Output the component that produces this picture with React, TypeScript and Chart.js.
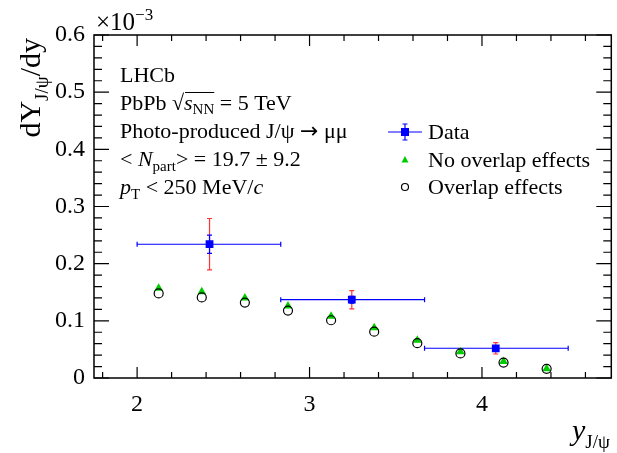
import React, { useEffect, useRef } from "react";
import { Chart, registerables } from "chart.js";

Chart.register(...registerables);

// ---- data (values in units of 1e-3) ----
const binLo = [2.0, 2.833, 3.667];
const binHi = [2.833, 3.667, 4.5];
const dataX = [2.42, 3.245, 4.08];
const dataY = [0.234, 0.137, 0.052];
const statErr = [0.016, 0.006, 0.004];
const totErr = [0.045, 0.016, 0.01];

const modelX = [2.125, 2.375, 2.625, 2.875, 3.125, 3.375, 3.625, 3.875, 4.125, 4.375];
const noOverlap = [0.157, 0.151, 0.14, 0.126, 0.108, 0.088, 0.066, 0.046, 0.029, 0.016];
const overlap = [0.148, 0.141, 0.132, 0.118, 0.101, 0.081, 0.061, 0.043, 0.027, 0.016];

const xTicks = [2, 3, 4];
const yTicks = [0, 0.1, 0.2, 0.3, 0.4, 0.5, 0.6];
const X_MIN = 1.75;
const X_MAX = 4.75;
const Y_MIN = 0;
const Y_MAX = 0.6;

const SERIF = '"Liberation Serif", "DejaVu Serif", serif';
const BLUE = "#0000ff";
const RED = "#ff3333";
const GREEN = "#00cc00";

type Run = { t: string; size: number; italic?: boolean; dy?: number; family?: string };

function drawRuns(ctx: CanvasRenderingContext2D, x: number, y: number, runs: Run[]) {
  let cx = x;
  const pos: number[] = [];
  for (const r of runs) {
    ctx.font = `${r.italic ? "italic " : ""}${r.size}px ${r.family || SERIF}`;
    pos.push(cx);
    ctx.fillText(r.t, cx, y + (r.dy || 0));
    cx += ctx.measureText(r.t).width;
  }
  pos.push(cx);
  return pos;
}

const overlayPlugin = {
  id: "overlay",
  beforeDatasetsDraw(chart: any) {
    const ctx: CanvasRenderingContext2D = chart.ctx;
    const xs = chart.scales.x;
    const ys = chart.scales.y;
    ctx.save();
    const cap = 2.5;
    for (let i = 0; i < dataX.length; i++) {
      const px = xs.getPixelForValue(dataX[i]);
      const py = ys.getPixelForValue(dataY[i]);
      // total error (red)
      ctx.strokeStyle = RED;
      ctx.lineWidth = 1.2;
      const t1 = ys.getPixelForValue(dataY[i] + totErr[i]);
      const t2 = ys.getPixelForValue(dataY[i] - totErr[i]);
      ctx.beginPath();
      ctx.moveTo(px, t1);
      ctx.lineTo(px, t2);
      ctx.moveTo(px - cap, t1);
      ctx.lineTo(px + cap, t1);
      ctx.moveTo(px - cap, t2);
      ctx.lineTo(px + cap, t2);
      ctx.stroke();
      // horizontal bin error (blue)
      ctx.strokeStyle = BLUE;
      const l = xs.getPixelForValue(binLo[i]);
      const r = xs.getPixelForValue(binHi[i]);
      ctx.beginPath();
      ctx.moveTo(l, py);
      ctx.lineTo(r, py);
      ctx.moveTo(l, py - cap);
      ctx.lineTo(l, py + cap);
      ctx.moveTo(r, py - cap);
      ctx.lineTo(r, py + cap);
      // stat error (blue)
      const s1 = ys.getPixelForValue(dataY[i] + statErr[i]);
      const s2 = ys.getPixelForValue(dataY[i] - statErr[i]);
      ctx.moveTo(px, s1);
      ctx.lineTo(px, s2);
      ctx.moveTo(px - cap, s1);
      ctx.lineTo(px + cap, s1);
      ctx.moveTo(px - cap, s2);
      ctx.lineTo(px + cap, s2);
      ctx.stroke();
    }
    ctx.restore();
  },
  afterDraw(chart: any) {
    const ctx: CanvasRenderingContext2D = chart.ctx;
    const xs = chart.scales.x;
    const ys = chart.scales.y;
    const a = chart.chartArea;
    ctx.save();
    // frame
    ctx.strokeStyle = "#000";
    ctx.lineWidth = 1.5;
    ctx.strokeRect(a.left, a.top, a.right - a.left, a.bottom - a.top);
    // x ticks
    ctx.lineWidth = 1.2;
    ctx.beginPath();
    for (let k = 0; k <= 15; k++) {
      const v = Math.round((1.8 + k * 0.2) * 100) / 100;
      if (v > X_MAX) break;
      const major = Math.abs(v - Math.round(v)) < 1e-6;
      const len = major ? 11 : 6;
      const px = xs.getPixelForValue(v);
      ctx.moveTo(px, a.bottom);
      ctx.lineTo(px, a.bottom - len);
      ctx.moveTo(px, a.top);
      ctx.lineTo(px, a.top + len);
    }
    // y ticks
    for (let k = 0; k <= 30; k++) {
      const v = k * 0.02;
      const major = k % 5 === 0;
      const len = major ? 15 : 8;
      const py = ys.getPixelForValue(v);
      ctx.moveTo(a.left, py);
      ctx.lineTo(a.left + len, py);
      ctx.moveTo(a.right, py);
      ctx.lineTo(a.right - len, py);
    }
    ctx.stroke();

    ctx.fillStyle = "#000";
    ctx.textBaseline = "alphabetic";
    ctx.textAlign = "left";
    // exponent
    drawRuns(ctx, 96, 30, [
      { t: "\u00d710", size: 25 },
      { t: "\u22123", size: 17, dy: -10 },
    ]);

    // annotation
    const tx = 120;
    const fs = 22;
    const sub = 15;
    drawRuns(ctx, tx, 82, [{ t: "LHCb", size: fs }]);
    const p = drawRuns(ctx, tx, 110, [
      { t: "PbPb ", size: fs },
      { t: "\u221a", size: fs },
      { t: "s", size: fs, italic: true },
      { t: "NN", size: sub, dy: 4 },
      { t: " = 5 TeV", size: fs },
    ]);
    ctx.lineWidth = 1;
    ctx.beginPath();
    ctx.moveTo(p[2] + 1, 92.5);
    ctx.lineTo(p[4], 92.5);
    ctx.stroke();
    drawRuns(ctx, tx, 138, [
      { t: "Photo-produced J/\u03c8 ", size: fs },
      { t: "\u2192", size: fs, family: '"DejaVu Sans", sans-serif' },
      { t: " \u03bc\u03bc", size: fs },
    ]);
    drawRuns(ctx, tx, 166, [
      { t: "< ", size: fs },
      { t: "N", size: fs, italic: true },
      { t: "part", size: sub, dy: 5 },
      { t: "> = 19.7 \u00b1 9.2", size: fs },
    ]);
    drawRuns(ctx, tx, 194, [
      { t: "p", size: fs, italic: true },
      { t: "T", size: sub, dy: 5 },
      { t: " < 250 MeV/", size: fs },
      { t: "c", size: fs, italic: true },
    ]);

    // legend
    const lx = 405;
    const ltx = 428;
    const rows = [132, 160, 187];
    ctx.strokeStyle = BLUE;
    ctx.lineWidth = 1.2;
    ctx.beginPath();
    ctx.moveTo(lx - 17, rows[0]);
    ctx.lineTo(lx + 17, rows[0]);
    ctx.moveTo(lx, rows[0] - 8);
    ctx.lineTo(lx, rows[0] + 8);
    ctx.moveTo(lx - 2.5, rows[0] - 8);
    ctx.lineTo(lx + 2.5, rows[0] - 8);
    ctx.moveTo(lx - 2.5, rows[0] + 8);
    ctx.lineTo(lx + 2.5, rows[0] + 8);
    ctx.stroke();
    ctx.fillStyle = BLUE;
    ctx.fillRect(lx - 4, rows[0] - 4, 8, 8);
    ctx.fillStyle = GREEN;
    ctx.beginPath();
    ctx.moveTo(lx, rows[1] - 4);
    ctx.lineTo(lx + 3.5, rows[1] + 2.5);
    ctx.lineTo(lx - 3.5, rows[1] + 2.5);
    ctx.closePath();
    ctx.fill();
    ctx.strokeStyle = "#000";
    ctx.lineWidth = 1.2;
    ctx.beginPath();
    ctx.arc(lx, rows[2], 3.5, 0, Math.PI * 2);
    ctx.stroke();
    ctx.fillStyle = "#000";
    drawRuns(ctx, ltx, rows[0] + 7, [{ t: "Data", size: fs }]);
    drawRuns(ctx, ltx, rows[1] + 7, [{ t: "No overlap effects", size: fs }]);
    drawRuns(ctx, ltx, rows[2] + 7, [{ t: "Overlap effects", size: fs }]);

    // x title
    drawRuns(ctx, 572, 440, [
      { t: "y", size: 30, italic: true },
      { t: "J/\u03c8", size: 19, dy: 8 },
    ]);

    // y title (rotated)
    ctx.save();
    ctx.translate(40, 0);
    ctx.rotate(-Math.PI / 2);
    const runs: Run[] = [
      { t: "dY", size: 30 },
      { t: "J/\u03c8", size: 19, dy: 8 },
      { t: "/dy", size: 30 },
    ];
    let total = 0;
    for (const r of runs) {
      ctx.font = `${r.size}px ${SERIF}`;
      total += ctx.measureText(r.t).width;
    }
    drawRuns(ctx, -38 - total, 0, runs);
    ctx.restore();

    ctx.restore();
  },
};

export default function App() {
  const ref = useRef<HTMLCanvasElement | null>(null);
  useEffect(() => {
    if (!ref.current) return;
    const chart = new Chart(ref.current, {
      type: "scatter",
      data: {
        datasets: [
          {
            label: "Data",
            data: dataX.map((x, i) => ({ x, y: dataY[i] })),
            pointStyle: "rect",
            pointRadius: 5.5,
            backgroundColor: BLUE,
            borderColor: BLUE,
            borderWidth: 0,
          },
          {
            label: "Overlap effects",
            data: modelX.map((x, i) => ({ x, y: overlap[i] })),
            pointStyle: "circle",
            pointRadius: 4.5,
            backgroundColor: "rgba(0,0,0,0)",
            borderColor: "#000",
            borderWidth: 1.2,
          },
          {
            label: "No overlap effects",
            data: modelX.map((x, i) => ({ x, y: noOverlap[i] })),
            pointStyle: "triangle",
            pointRadius: 5,
            backgroundColor: GREEN,
            borderColor: GREEN,
            borderWidth: 0,
          },
        ],
      },
      options: {
        animation: false,
        responsive: false,
        layout: { padding: { top: 35, right: 3, left: 0, bottom: 0 } },
        plugins: { legend: { display: false }, tooltip: { enabled: false } },
        scales: {
          x: {
            type: "linear",
            min: X_MIN,
            max: X_MAX,
            grid: { display: false, drawTicks: false },
            border: { display: false },
            ticks: {
              color: "#000",
              font: { family: SERIF, size: 24 },
              padding: 12,
              maxRotation: 0,
              callback: (v: any) => String(v),
            },
            afterBuildTicks: (s: any) => {
              s.ticks = xTicks.map((v) => ({ value: v }));
            },
            afterFit: (s: any) => {
              s.height = 75;
            },
          },
          y: {
            type: "linear",
            min: Y_MIN,
            max: Y_MAX,
            grid: { display: false, drawTicks: false },
            border: { display: false },
            ticks: {
              color: "#000",
              font: { family: SERIF, size: 24 },
              padding: 9,
              callback: (v: any) => (v === 0 ? "0" : Number(v).toFixed(1)),
            },
            afterBuildTicks: (s: any) => {
              s.ticks = yTicks.map((v) => ({ value: v }));
            },
            afterFit: (s: any) => {
              s.width = 94;
            },
          },
        },
      },
      plugins: [overlayPlugin],
    } as any);
    return () => chart.destroy();
  }, []);
  return (
    <div style={{ position: "fixed", left: 0, top: 0, width: 617, height: 453, background: "#fff" }}>
      <canvas ref={ref} width={617} height={453} style={{ width: 617, height: 453 }} />
    </div>
  );
}
